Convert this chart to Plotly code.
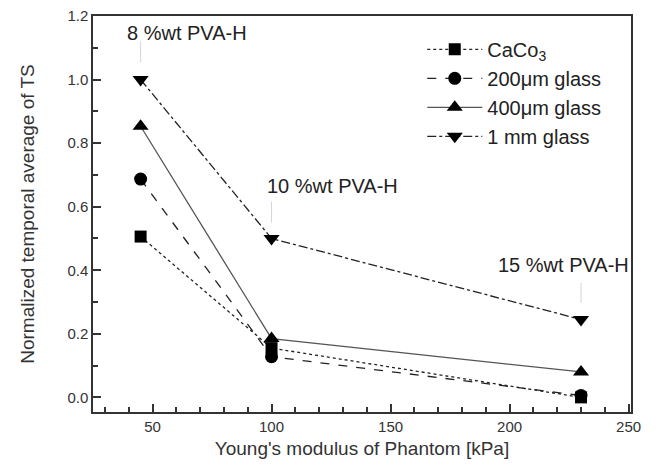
import plotly.graph_objects as go

modulus = [45, 100, 230]
caco3 = [0.506, 0.155, 0.0]
glass200 = [0.687, 0.128, 0.006]
glass400 = [0.853, 0.185, 0.08]
glass1mm = [1.0, 0.5, 0.245]

series_names = ["CaCo<sub>3</sub>", "200\u03bcm glass", "400\u03bcm glass", "1 mm glass"]
series_vals = [caco3, glass200, glass400, glass1mm]
dashes = ["dot", "dash", "solid", "dashdot"]
symbols = ["square", "circle", "triangle-up", "triangle-down"]
marker_sizes = [12, 13, 14, 14]
line_colors = ["#222", "#222", "#555", "#222"]

labels = ["8 %wt PVA-H", "10 %wt PVA-H", "15 %wt PVA-H"]
label_y = [1.148, 0.666, 0.417]
arrow_top = [1.12, 0.616, 0.36]
arrow_bot = [1.054, 0.55, 0.297]
label_shift = [-16, -7, -85]

fig = go.Figure()
for name, vals, d, s, ms, lc in zip(series_names, series_vals, dashes, symbols, marker_sizes, line_colors):
    fig.add_trace(go.Scatter(
        x=modulus, y=vals, name=name, mode="lines+markers", legendgroup=name,
        line=dict(color=lc, width=1.3, dash=d),
        marker=dict(symbol=s, size=ms, color="black"),
    ))

for xv, lab, ly, at, ab, sh in zip(modulus, labels, label_y, arrow_top, arrow_bot, label_shift):
    fig.add_annotation(x=xv, y=ly, text=lab, showarrow=False, xanchor="left", xshift=sh,
                       font=dict(size=20, color="#222"))
    fig.add_shape(type="line", xref="x", yref="y", x0=xv, x1=xv, y0=ab, y1=at,
                  line=dict(color="#777", width=1))

fig.update_xaxes(range=[25, 251], tickmode="array", tickvals=[50, 100, 150, 200, 250],
                 showline=True, linecolor="#333", linewidth=1.5, mirror=True,
                 ticks="inside", ticklen=8, tickcolor="#333", tickwidth=1.5,
                 minor=dict(ticks="inside", ticklen=5, dtick=10, tick0=0, tickcolor="#333", tickwidth=1.5),
                 showgrid=False, zeroline=False,
                 tickfont=dict(size=15, color="#333"),
                 title=dict(text="Young's modulus of Phantom [kPa]", font=dict(size=19, color="#333"), standoff=8))
fig.update_yaxes(range=[-0.046, 1.2], tickmode="array", tickvals=[0, 0.2, 0.4, 0.6, 0.8, 1.0, 1.2], tickformat=".1f",
                 showline=True, linecolor="#333", linewidth=1.5, mirror=True,
                 ticks="inside", ticklen=8, tickcolor="#333", tickwidth=1.5,
                 minor=dict(ticks="inside", ticklen=5, dtick=0.1, tick0=0, tickcolor="#333", tickwidth=1.5),
                 showgrid=False, zeroline=False,
                 tickfont=dict(size=15, color="#333"),
                 title=dict(text="Normalized temporal average of TS", font=dict(size=19, color="#333"), standoff=28))
fig.update_layout(
    template="simple_white",
    width=656, height=468,
    margin=dict(l=93, r=25, t=16, b=56, autoexpand=False),
    paper_bgcolor="white", plot_bgcolor="rgba(0,0,0,0)",
    font=dict(family="Liberation Sans, Arial, sans-serif"),
    legend=dict(x=0.612, y=0.965, xanchor="left", yanchor="top", bgcolor="rgba(0,0,0,0)",
                font=dict(size=20, color="#222"), tracegroupgap=0, itemwidth=55),
)
fig.write_html("out.html", config={"displayModeBar": False},
               post_script="document.body.style.margin='0';")
